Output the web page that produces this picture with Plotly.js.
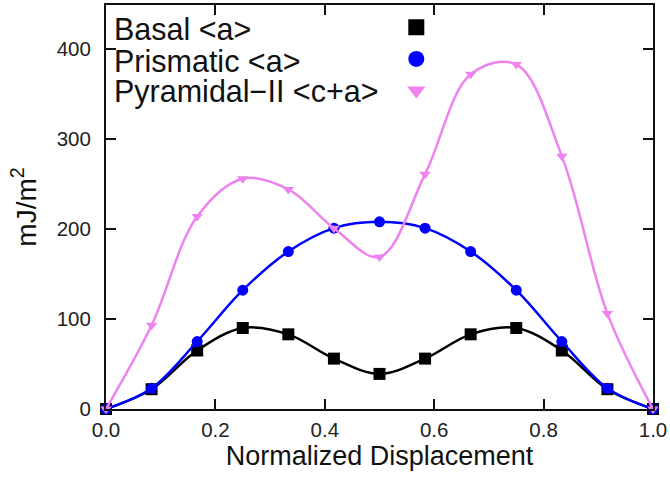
<!DOCTYPE html>
<html><head><meta charset="utf-8">
<script src="https://cdn.plot.ly/plotly-3.0.1.min.js"></script>
<style>html,body{margin:0;padding:0;background:#fff}#chart{width:670px;height:485px}</style>
</head><body><div id="chart"></div>
<script>
var displacement = [0, 1/12, 2/12, 3/12, 4/12, 5/12, 6/12, 7/12, 8/12, 9/12, 10/12, 11/12, 1];
var basal = [0, 22, 65, 90, 83, 56, 39, 56, 83, 90, 65, 22, 0];
var prismatic = [0, 23, 75, 132, 175, 201, 208, 201, 175, 132, 75, 23, 0];
var pyramidal = [0, 93, 214, 256, 244, 201, 169, 261, 372, 383, 281, 106, 0];
var seriesNames = ['Basal &lt;a&gt;', 'Prismatic &lt;a&gt;', 'Pyramidal\u2212II &lt;c+a&gt;'];
var xTickVals = [0, 0.2, 0.4, 0.6, 0.8, 1.0];
var yTickVals = [0, 100, 200, 300, 400];

var colors = ['#000000', '#0000ff', '#ee82ee'];
var symbols = ['square', 'circle', 'triangle-down'];
var sizes = [12, 11, 10];
var ys = [basal, prismatic, pyramidal];

var traces = [];
for (var i = 0; i < 3; i++) {
  traces.push({x: displacement, y: ys[i], mode: 'lines+markers', showlegend: false,
    line: {color: colors[i], width: 2.5, shape: 'spline', smoothing: 1},
    marker: {color: colors[i], symbol: symbols[i], size: sizes[i]}, cliponaxis: false});
}
for (var j = 0; j < 3; j++) {
  traces.push({x: [null], y: [null], mode: 'markers', name: ' ', showlegend: true,
    marker: {color: colors[j], symbol: symbols[j], size: 16}});
}

var X0 = 105.7, W = 547, Y0 = 409.3, H = 404.3;
var annotations = [];
var legendY = [29, 61, 92];
for (var k = 0; k < 3; k++) {
  annotations.push({xref: 'paper', yref: 'paper', x: (112 - X0) / W, xanchor: 'left',
    y: (Y0 - legendY[k]) / H, yanchor: 'middle', text: seriesNames[k], showarrow: false,
    font: {family: 'Liberation Sans, Arial, sans-serif', size: 30.5, color: '#111'}});
}

var layout = {
  width: 670, height: 485,
  margin: {l: X0, r: 670 - X0 - W, t: 5, b: 485 - Y0},
  paper_bgcolor: '#fff', plot_bgcolor: '#fff',
  font: {family: 'Liberation Sans, Arial, sans-serif', color: '#222'},
  xaxis: {range: [0, 1], tickvals: xTickVals, ticktext: xTickVals.map(function(v){return v.toFixed(1);}),
    ticks: 'inside', ticklen: 10, tickwidth: 2, tickcolor: '#111', mirror: 'ticks',
    showline: true, linecolor: '#111', linewidth: 2, showgrid: false, zeroline: false,
    tickfont: {size: 20.5, color: '#222'}, ticklabelstandoff: 1,
    title: {text: 'Normalized Displacement', font: {size: 27, color: '#111'}, standoff: 5}},
  yaxis: {range: [0, 449], tickvals: yTickVals,
    ticks: 'inside', ticklen: 10, tickwidth: 2, tickcolor: '#111', mirror: 'ticks',
    showline: true, linecolor: '#111', linewidth: 2, showgrid: false, zeroline: false,
    tickfont: {size: 20.5, color: '#222'}, ticklabelstandoff: 9,
    title: {text: 'mJ/m<sup>2</sup>', font: {size: 28, color: '#111'}, standoff: 12}},
  legend: {x: (396 - X0) / W, xanchor: 'left', y: (Y0 - 6.5) / H, yanchor: 'top',
    bgcolor: 'rgba(0,0,0,0)', tracegroupgap: 0, itemwidth: 30, font: {size: 22}},
  annotations: annotations
};
Plotly.newPlot('chart', traces, layout, {displayModeBar: false, staticPlot: true});
</script></body></html>
